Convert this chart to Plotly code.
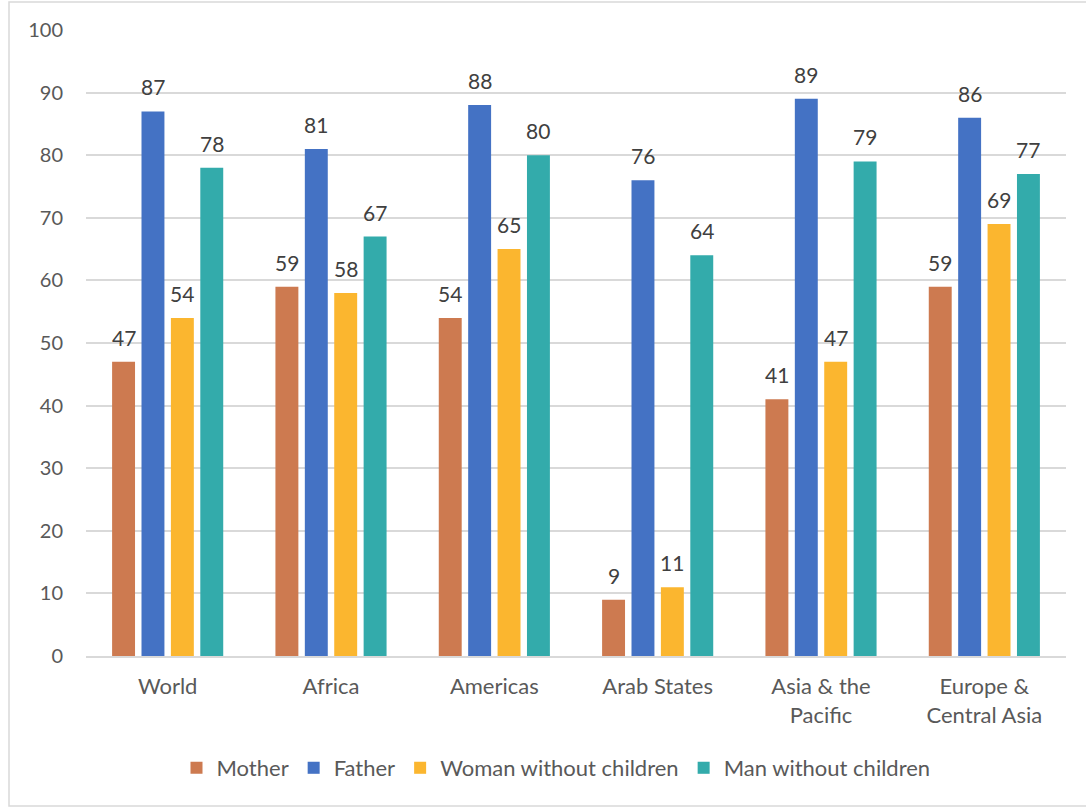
import plotly.graph_objects as go

categories = ["World", "Africa", "Americas", "Arab States", "Asia & the<br>Pacific", "Europe &<br>Central Asia"]
mother = [47, 59, 54, 9, 41, 59]
father = [87, 81, 88, 76, 89, 86]
woman_nc = [54, 58, 65, 11, 47, 69]
man_nc = [78, 67, 80, 64, 79, 77]

series = [
    ("Mother", mother, "#CD7A50"),
    ("Father", father, "#4472C4"),
    ("Woman without children", woman_nc, "#FBB62F"),
    ("Man without children", man_nc, "#33ABAB"),
]

FONT = "Lato, 'Open Sans', sans-serif"

W, H = 1086, 807
L, R, T, B = 86, 20, 30, 151
pw, ph = W - L - R, H - T - B
BARGAP, GROUPGAP = 0.28, 0.22


def px(x):
    return (x - L) / pw


def py(y):
    return (H - B - y) / ph


fig = go.Figure()
for name, vals, col in series:
    fig.add_trace(go.Bar(
        name=name, x=categories, y=vals,
        marker=dict(color=col, line=dict(width=0)),
        cliponaxis=False,
    ))

# data labels, positioned over each bar of the group
slot_px = pw / len(categories) * (1 - BARGAP) / len(series)
annotations = []
for si, (name, vals, col) in enumerate(series):
    shift = (si - (len(series) - 1) / 2) * slot_px
    for cat, v in zip(categories, vals):
        annotations.append(dict(
            x=cat, y=v, xref="x", yref="y", text=str(v), showarrow=False,
            xanchor="center", yanchor="bottom", xshift=shift, yshift=10,
            font=dict(size=21, color="#404040", family=FONT),
        ))

fig.update_layout(
    width=W, height=H,
    margin=dict(l=L, r=R, t=T, b=B),
    paper_bgcolor="white", plot_bgcolor="white",
    barmode="group", bargap=BARGAP, bargroupgap=GROUPGAP,
    font=dict(family=FONT, color="#595959", size=20),
    showlegend=True,
    legend=dict(orientation="h", x=px(556), xref="paper", xanchor="center", y=py(768), yanchor="middle",
                font=dict(size=22, color="#595959", family=FONT), traceorder="normal",
                itemwidth=30),
    annotations=annotations,
    shapes=[dict(type="rect", xref="paper", yref="paper",
                 x0=px(9), x1=px(1092), y0=py(806), y1=py(2),
                 line=dict(color="#D9D9D9", width=1.5), fillcolor="rgba(0,0,0,0)", layer="below")],
)
fig.update_xaxes(showgrid=False, showline=True, linecolor="#D9D9D9", linewidth=1.5,
                 tickfont=dict(size=22, color="#595959"), ticks="", ticklabelstandoff=10)
fig.update_yaxes(range=[0, 100], dtick=10, showgrid=True, gridcolor="#D9D9D9", gridwidth=1.5,
                 zeroline=False, showline=False, ticks="", ticklabelstandoff=22,
                 tickfont=dict(size=20, color="#595959"))

fig.write_html("out.html")
